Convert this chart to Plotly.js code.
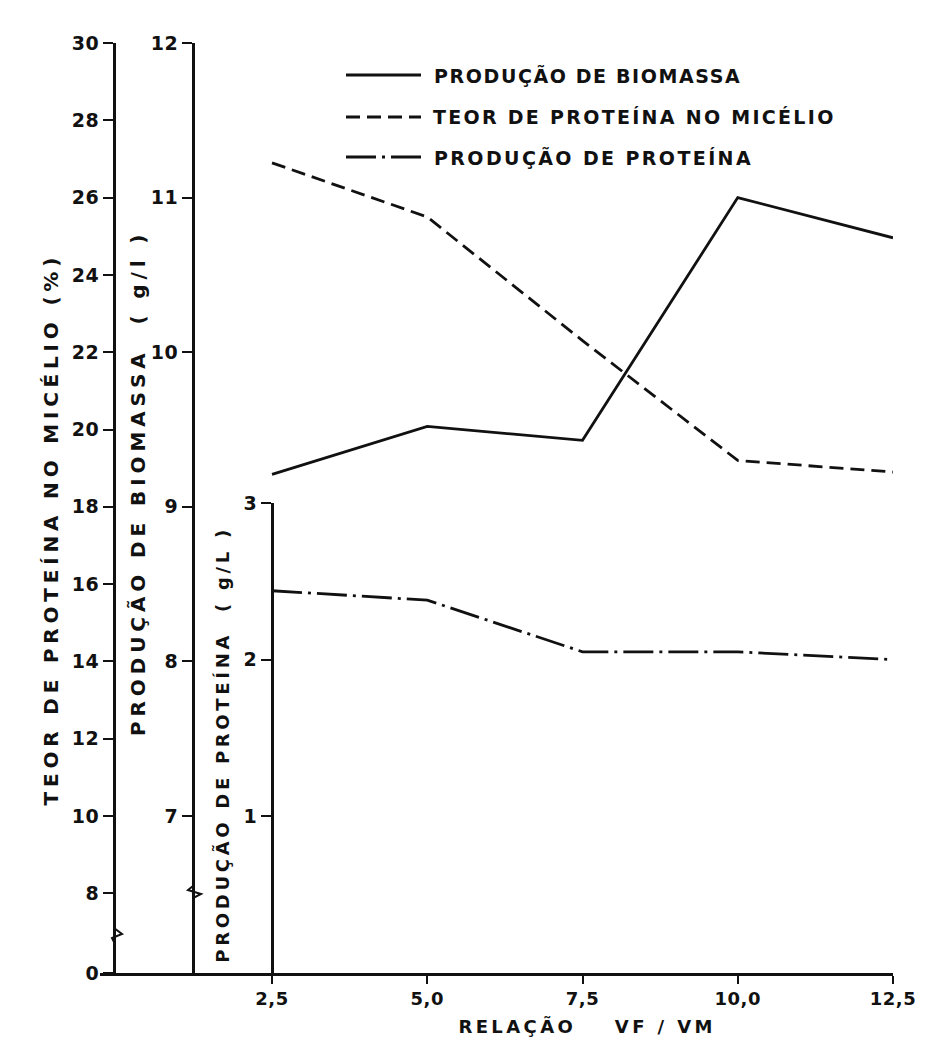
<!DOCTYPE html>
<html><head><meta charset="utf-8">
<script src="https://cdn.plot.ly/plotly-3.0.1.min.js"></script>
<style>
body{margin:0;background:#fff}
.main-svg text{letter-spacing:0.5px}
g.annotation[data-index="0"] text{letter-spacing:1.6px}
g.annotation[data-index="1"] text{letter-spacing:2.3px}
g.annotation[data-index="2"] text{letter-spacing:2.4px}
g.annotation[data-index="3"] text{letter-spacing:4.8px}
g.annotation[data-index="4"] text{letter-spacing:4.9px}
g.annotation[data-index="5"] text{letter-spacing:3.7px}
g.annotation[data-index="6"] text{letter-spacing:3.4px}
</style>
</head><body><div id="chart" style="width:937px;height:1040px"></div>
<script>
// ---- data ----
const relacao = [2.5, 5.0, 7.5, 10.0, 12.5];
const biomassa = [9.21, 9.52, 9.43, 11.0, 10.74];          // g/l
const teorProteina = [26.9, 25.5, 22.3, 19.2, 18.9];        // %
const producaoProteina = [2.44, 2.38, 2.05, 2.05, 2.0];     // g/L
const xTickVals = [2.5, 5.0, 7.5, 10.0, 12.5];
const xTickText = ['2,5', '5,0', '7,5', '10,0', '12,5'];
const teorTickVals = [5.94, 8, 10, 12, 14, 16, 18, 20, 22, 24, 26, 28, 30];
const teorTickText = ['0', '8', '10', '12', '14', '16', '18', '20', '22', '24', '26', '28', '30'];
const biomTickVals = [7, 8, 9, 10, 11, 12];
const biomTickText = ['7', '8', '9', '10', '11', '12'];
const protTickVals = [1, 2, 3];
const protTickText = ['1', '2', '3'];
const seriesNames = ['PRODUÇÃO DE BIOMASSA', 'TEOR DE PROTEÍNA NO MICÉLIO', 'PRODUÇÃO DE PROTEÍNA'];

// ---- layout geometry (pixels) ----
const W = 937, H = 1040, L = 100, R = 893, T = 43, B = 973;
const px = x => (x - L) / (R - L);
const py = y => (B - y) / (B - T);
const FONT = 'DejaVu Sans Bold, DejaVu Sans, sans-serif';
const ink = '#111';

const dashTeor = '14px,7px';
const dashProt = '30px,6px,3px,6px';

const traces = [
  {x: relacao, y: biomassa, yaxis: 'y2', mode: 'lines', name: seriesNames[0],
   line: {color: ink, width: 2.8}},
  {x: relacao, y: teorProteina, yaxis: 'y', mode: 'lines', name: seriesNames[1],
   line: {color: ink, width: 2.8, dash: dashTeor}},
  {x: relacao, y: producaoProteina, yaxis: 'y3', mode: 'lines', name: seriesNames[2],
   line: {color: ink, width: 2.8, dash: dashProt}}
];

const axBase = {showline: true, linecolor: ink, linewidth: 2.5, ticks: 'outside', ticklen: 10,
  tickwidth: 2, tickcolor: ink, showgrid: false, zeroline: false,
  tickfont: {family: FONT, size: 19, color: ink, weight: 'bold'}, tickmode: 'array'};

const shapes = [];
// legend samples
const legY = [75, 117, 157];
const legCX = [588, 634.5, 593];
const legDash = ['solid', dashTeor, dashProt];
legY.forEach((y, i) => {
  shapes.push({type: 'line', xref: 'paper', yref: 'paper', x0: px(346), x1: px(421), y0: py(y), y1: py(y),
    line: {color: ink, width: 2.8, dash: legDash[i]}});
});
// axis break marks
function pathPx(pts) { return 'M ' + pts.map(p => px(p[0]) + ',' + py(p[1])).join(' L '); }
shapes.push({type: 'path', xref: 'paper', yref: 'paper', path: pathPx([[114, 924], [114, 928], [122, 934], [112, 938], [114, 942], [114, 946]]),
  line: {color: ink, width: 2}});
shapes.push({type: 'path', xref: 'paper', yref: 'paper', path: pathPx([[193, 882], [193, 886], [188, 890], [201, 894], [193, 898], [193, 902]]),
  line: {color: ink, width: 2}});

const annotations = [];
function ann(x, y, text, size, angle) {
  annotations.push({xref: 'paper', yref: 'paper', x: px(x), y: py(y), xanchor: 'center', yanchor: 'middle',
    textangle: angle || 0, showarrow: false, text: text, font: {family: FONT, size: size, color: ink, weight: 'bold'}});
}
legY.forEach((y, i) => ann(legCX[i], y, seriesNames[i], 19));
ann(51, 529, 'TEOR DE PROTEÍNA NO MICÉLIO&nbsp;(%)', 20, -90);
ann(138, 483, 'PRODUÇÃO DE BIOMASSA&nbsp;&nbsp;( g/l )', 20, -90);
ann(222, 745, 'PRODUÇÃO DE PROTEÍNA&nbsp;&nbsp;( g/L )', 18, -90);
ann(587, 1026, 'RELAÇÃO&nbsp;&nbsp;&nbsp;&nbsp;VF / VM', 18);

const layout = {
  width: W, height: H, paper_bgcolor: '#fff', plot_bgcolor: 'rgba(0,0,0,0)', showlegend: false,
  margin: {l: L, r: W - R, t: T, b: H - B, pad: 0},
  xaxis: Object.assign({}, axBase, {range: [-0.27, 12.5], domain: [0, 1], anchor: 'y', ticklen: 8,
    tickvals: xTickVals, ticktext: xTickText, tickfont: {family: FONT, size: 18, color: ink, weight: 'bold'}}),
  yaxis: Object.assign({}, axBase, {range: [5.94, 30], domain: [0, 1], anchor: 'free', position: px(114),
    tickvals: teorTickVals, ticktext: teorTickText}),
  yaxis2: Object.assign({}, axBase, {range: [5.985, 12], overlaying: 'y', anchor: 'free', position: px(193), side: 'left',
    tickvals: biomTickVals, ticktext: biomTickText}),
  yaxis3: Object.assign({}, axBase, {range: [0, 3], domain: [0, py(503)], anchor: 'free', position: px(272), side: 'left',
    tickvals: protTickVals, ticktext: protTickText}),
  shapes: shapes,
  annotations: annotations
};

Plotly.newPlot('chart', traces, layout, {displayModeBar: false, staticPlot: true});
</script></body></html>
